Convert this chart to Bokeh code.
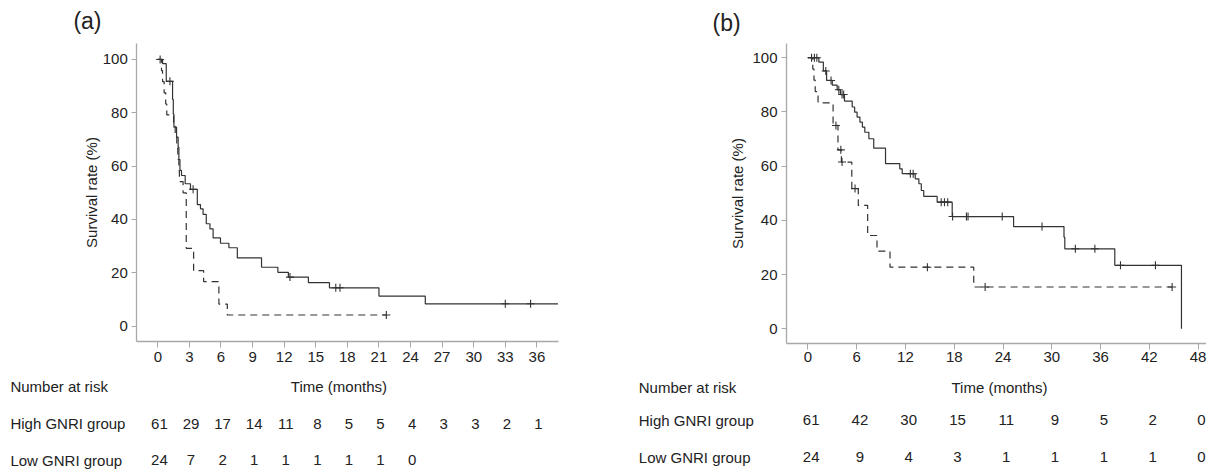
import numpy as np
from bokeh.plotting import figure
from bokeh.models import FixedTicker, Range1d, LinearAxis, Grid
from bokeh.layouts import row
from bokeh.core.properties import value
from bokeh.embed import file_html
from bokeh.resources import INLINE

FONT = "Liberation Sans"
INK = "#333333"
TXT = "#222222"
AXIS_GRAY = "#a8a8a8"

# ---------------- data: panel (a) ----------------
a_high_t = [0, 0.45, 0.8, 1.4, 1.47, 1.53, 1.78, 1.93, 2.0, 2.1, 2.25, 2.6, 3.1, 3.75, 4.05,
            4.3, 4.6, 4.95, 5.25, 5.95, 6.75, 7.55, 9.85, 11.4, 12.4, 14.3, 16.3, 21.0, 25.4, 38.0]
a_high_s = [100, 98.4, 91.8, 85.0, 79.5, 74.6, 70.9, 67.1, 62.5, 58.4, 56.5, 53.4, 51.3, 45.6, 44.0,
            41.9, 38.4, 36.5, 33.1, 31.1, 29.4, 25.6, 22.1, 20.2, 18.4, 16.3, 14.4, 11.3, 8.4, 8.4]
a_high_cens = [0.22, 1.15, 3.35, 12.55, 16.9, 17.3, 33.0, 35.4]

a_low_t = [0, 0.35, 0.45, 0.6, 0.75, 0.85, 1.5, 1.65, 1.8, 1.9, 2.0, 2.05, 2.4, 2.7, 3.4, 4.35, 5.8, 6.6, 21.7]
a_low_s = [100, 95.8, 91.7, 87.5, 83.3, 79.2, 75.0, 70.8, 66.7, 62.5, 58.3, 54.2, 50.0, 29.2, 20.8,
           16.7, 8.3, 4.2, 4.2]
a_low_cens = [21.7]

a_xticks = [0, 3, 6, 9, 12, 15, 18, 21, 24, 27, 30, 33, 36]
a_risk_high = [61, 29, 17, 14, 11, 8, 5, 5, 4, 3, 3, 2, 1]
a_risk_low = [24, 7, 2, 1, 1, 1, 1, 1, 0]

# ---------------- data: panel (b) ----------------
b_high_t = [0, 1.35, 1.9, 2.3, 3.0, 3.6, 4.0, 4.5, 5.45, 5.75, 6.05, 6.4, 6.7, 7.0, 7.5, 8.1,
            9.55, 11.3, 11.6, 13.2, 13.65, 13.95, 14.25, 15.9, 17.75, 25.3, 31.5, 31.6, 37.75, 45.95]
b_high_s = [100, 98.4, 95.1, 91.6, 89.9, 88.2, 86.4, 84.0, 81.8, 79.9, 78.1, 76.2, 74.4, 72.5, 70.1, 66.6,
            60.9, 59.0, 57.2, 55.3, 53.5, 51.0, 48.8, 46.7, 41.4, 37.7, 33.8, 29.5, 23.4, 0]
b_high_cens = [0.45, 0.8, 1.1, 2.2, 2.85, 3.8, 4.2, 4.4, 12.6, 12.95, 16.4, 16.8, 17.2, 17.8,
               19.5, 19.7, 23.9, 28.8, 32.9, 35.3, 38.45, 42.75]

b_low_t = [0, 0.6, 0.75, 0.9, 1.25, 3.1, 3.7, 4.12, 5.4, 6.2, 7.35, 8.5, 10.1, 20.4, 44.8]
b_low_s = [100, 95.8, 91.7, 87.5, 83.3, 75.0, 66.0, 61.5, 51.7, 45.5, 34.4, 28.6, 22.7, 15.4, 15.4]
b_low_cens = [3.45, 4.05, 4.2, 5.8, 14.7, 21.8, 44.8]

b_xticks = [0, 6, 12, 18, 24, 30, 36, 42, 48]
b_risk_high = [61, 42, 30, 15, 11, 9, 5, 2, 0]
b_risk_low = [24, 9, 4, 3, 1, 1, 1, 1, 0]

y_ticks = [0, 20, 40, 60, 80, 100]
row_labels = ["Number at risk", "High GNRI group", "Low GNRI group"]


def step_value(times, surv, t):
    idx = np.searchsorted(np.asarray(times), t, side="right") - 1
    return float(surv[max(idx, 0)])


def txt(f, xs, ys, texts, size="15px", align="center"):
    f.text(x=xs, y=ys, text=texts, text_font=value(FONT), text_font_size=value(size),
           text_color=TXT, text_align=align, text_baseline="middle")


def style_axis(ax):
    ax.axis_line_color = AXIS_GRAY
    ax.axis_line_width = 1.3
    ax.major_tick_line_color = AXIS_GRAY
    ax.major_tick_in = 0
    ax.minor_tick_line_color = None
    ax.major_label_text_font = FONT
    ax.major_label_text_font_size = "15px"
    ax.major_label_text_color = TXT
    ax.axis_label_text_font = FONT
    ax.axis_label_text_font_size = "15px"
    ax.axis_label_text_font_style = "normal"
    ax.axis_label_text_color = TXT


def make_panel(width, canvas_x, canvas_y, plot_x, plot_y, xticks,
               high_t, high_s, high_c, low_t, low_s, low_c,
               ylabel_standoff, xtick_standoff):
    p = figure(width=width, height=470, output_backend="svg", toolbar_location=None,
               x_range=Range1d(*canvas_x), y_range=Range1d(*canvas_y),
               x_axis_location=None, y_axis_location=None,
               min_border=0, min_border_left=0, min_border_right=0,
               min_border_top=0, min_border_bottom=0)
    p.outline_line_color = None
    p.background_fill_color = "white"
    p.border_fill_color = "white"

    xa = LinearAxis(fixed_location=plot_y[0], bounds=plot_x, ticker=FixedTicker(ticks=xticks))
    style_axis(xa)
    xa.major_tick_out = 6
    xa.major_label_standoff = xtick_standoff
    p.add_layout(xa, "below")

    ya = LinearAxis(fixed_location=plot_x[0], bounds=plot_y, ticker=FixedTicker(ticks=y_ticks),
                    axis_label="Survival rate (%)")
    style_axis(ya)
    ya.major_tick_out = 5
    ya.major_label_standoff = 4
    ya.axis_label_standoff = ylabel_standoff
    p.add_layout(ya, "left")

    # no grid lines at all
    for r in list(p.center) + list(p.renderers):
        if isinstance(r, Grid):
            r.visible = False
            r.grid_line_color = None

    p.step(high_t, high_s, mode="after", line_color=INK, line_width=1.2)
    p.step(low_t, low_s, mode="after", line_color=INK, line_width=1.2, line_dash="7 5")

    hc_y = [step_value(high_t, high_s, t) for t in high_c]
    lc_y = [step_value(low_t, low_s, t) for t in low_c]
    p.scatter(high_c, hc_y, marker="cross", size=8, line_color=INK, line_width=1.1)
    p.scatter(low_c, lc_y, marker="cross", size=8, line_color=INK, line_width=1.1)
    return p


# ---- panel (a) ----
pa = make_panel(600, (-14.94, 42.04), (-54.1, 122.1), (-2.0, 38.07), (-5.74, 106.0), a_xticks,
                a_high_t, a_high_s, a_high_cens, a_low_t, a_low_s, a_low_cens,
                ylabel_standoff=-1, xtick_standoff=4)
A_ROWS = [-22.6, -36.5, -50.2]
txt(pa, [-6.68], [114.3], ["(a)"], size="23px")
txt(pa, [17.2], [A_ROWS[0]], ["Time (months)"])
txt(pa, [-14.0] * 3, A_ROWS, row_labels, align="left")
txt(pa, [t + 0.15 for t in a_xticks], [A_ROWS[1]] * len(a_risk_high), [str(n) for n in a_risk_high])
txt(pa, [t + 0.15 for t in a_xticks[:len(a_risk_low)]], [A_ROWS[2]] * len(a_risk_low),
    [str(n) for n in a_risk_low])

# ---- panel (b) ----
pb = make_panel(606, (-25.51, 49.03), (-52.3, 121.1), (-2.63, 49.03), (-5.31, 105.3), b_xticks,
                b_high_t, b_high_s, b_high_cens, b_low_t, b_low_s, b_low_cens,
                ylabel_standoff=3, xtick_standoff=3)
B_ROWS = [-21.5, -33.8, -47.4]
txt(pb, [-10.0], [112.7], ["(b)"], size="23px")
txt(pb, [23.57], [B_ROWS[0]], ["Time (months)"])
txt(pb, [-20.8] * 3, B_ROWS, row_labels, align="left")
txt(pb, [t + 0.4 for t in b_xticks], [B_ROWS[1]] * len(b_risk_high), [str(n) for n in b_risk_high])
txt(pb, [t + 0.4 for t in b_xticks], [B_ROWS[2]] * len(b_risk_low), [str(n) for n in b_risk_low])

layout = row(pa, pb)
open("out.html", "w").write(file_html(layout, INLINE))
